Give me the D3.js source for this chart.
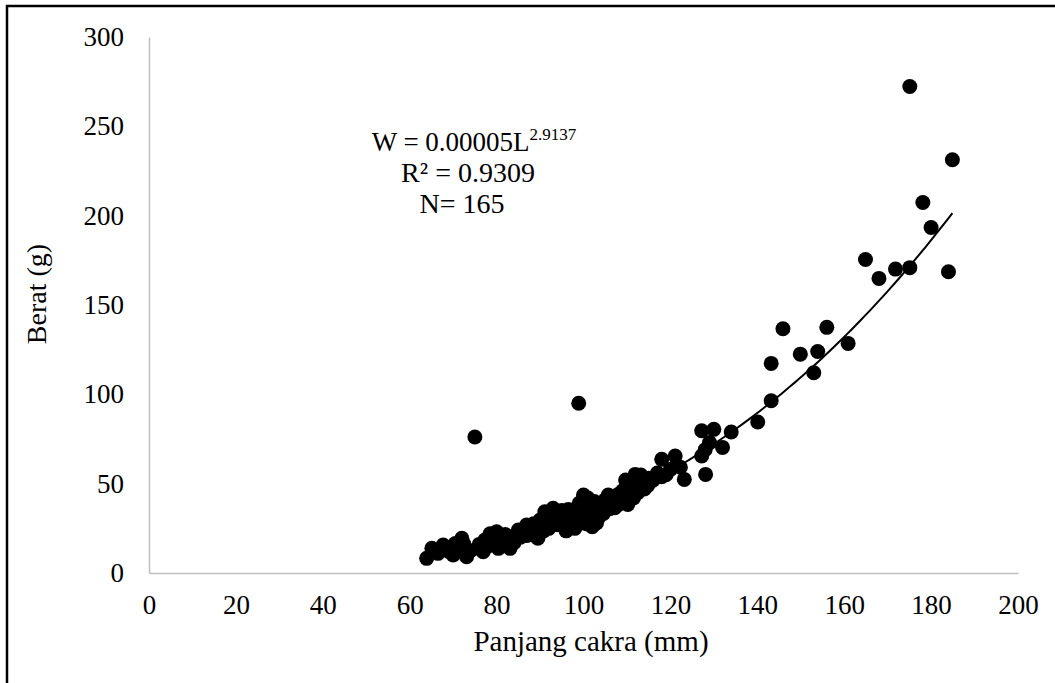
<!DOCTYPE html>
<html>
<head>
<meta charset="utf-8">
<script src="https://cdn.jsdelivr.net/npm/d3@7"></script>
<style>
  html, body { margin: 0; padding: 0; background: #fff; }
  svg { display: block; }
  text { font-family: "Liberation Serif", "Times New Roman", serif; fill: #000; }
</style>
</head>
<body>
<svg id="chart" width="1055" height="683"></svg>
<script>
// Panjang cakra (mm) of each fish
const lengths = [
  63.9, 65.1, 67.7, 70.0, 72.0, 73.1, 69.0, 71.0, 66.5, 68.5, 72.5, 74.0, 70.5,
  77.3, 76.9, 80.0, 80.4, 83.1, 85.0, 78.0, 79.0, 81.5, 82.0, 84.0, 76.0, 78.5, 83.5, 81.0, 85.5,
  86.9, 90.0, 91.1, 93.0, 87.0, 88.0, 89.0, 90.5, 91.5, 92.0, 93.5, 94.0, 94.5, 95.0, 96.0, 96.0, 88.5, 92.5, 89.5, 87.5, 95.5, 86.0,
  96.5, 97.0, 97.5, 98.0, 98.5, 99.0, 99.5, 100.0, 100.0, 100.5, 101.0, 101.5, 102.0, 102.0, 102.5, 103.0, 103.5, 104.0, 104.6, 105.0, 105.7, 96.5, 98.0, 99.0, 101.0, 103.0,
  106.0, 106.5, 107.0, 107.5, 108.0, 108.5, 109.0, 109.7, 110.0, 110.2, 110.5, 111.0, 111.9, 112.0, 112.5, 113.2, 113.5, 114.0, 114.5, 115.0,
  118.0, 118.0, 119.0, 121.1, 122.3, 123.2, 127.2, 127.2, 128.1, 130.0, 134.0, 132.0, 129.0, 128.0, 120.0, 116.0, 117.0,
  140.1, 143.2, 143.2, 145.9, 149.9, 153.0, 153.9, 156.0, 160.9, 164.9, 168.0, 171.8, 175.1, 175.1, 178.1, 180.0, 184.0, 184.9,
  75.0, 98.9,
  86.5, 87.8, 88.8, 89.8, 90.8, 91.8, 92.8, 93.8, 94.8, 95.8,
  96.8, 97.8, 98.8, 99.8, 100.8, 101.8, 102.8, 103.8, 104.8, 97.2, 100.2,
  105.5, 106.2, 107.2, 108.2, 109.2, 110.8, 111.5, 112.8, 113.8, 114.8
];

// Berat (g) of each fish, in the same order
const weights = [
  8.2, 13.8, 15.7, 10.1, 19.4, 9.1, 12.0, 14.0, 11.0, 13.5, 16.0, 12.5, 16.5,
  18.5, 11.9, 23.1, 13.8, 13.8, 24.1, 15.0, 20.0, 18.0, 21.5, 17.0, 16.0, 22.0, 19.5, 16.0, 20.0,
  26.9, 29.7, 34.3, 36.2, 21.0, 24.0, 22.5, 26.0, 28.0, 25.0, 30.0, 27.0, 33.0, 35.0, 31.0, 23.6, 27.5, 31.5, 19.5, 23.0, 26.0, 22.5,
  29.0, 33.0, 27.0, 30.5, 36.0, 32.0, 28.0, 43.6, 34.0, 31.0, 37.0, 29.0, 25.9, 33.0, 40.0, 35.0, 31.0, 37.5, 33.4, 41.0, 43.6, 35.5, 25.0, 39.0, 42.0, 28.0,
  36.0, 39.0, 42.0, 38.0, 44.0, 40.0, 46.0, 52.0, 49.0, 38.4, 43.0, 47.0, 55.2, 50.0, 45.0, 54.8, 48.0, 47.0, 51.0, 53.0,
  63.6, 53.9, 55.0, 65.5, 59.2, 52.4, 79.6, 65.5, 55.2, 80.4, 78.9, 70.3, 73.0, 69.0, 58.0, 52.0, 56.0,
  84.5, 96.4, 117.3, 136.7, 122.5, 112.1, 124.0, 137.5, 128.5, 175.5, 164.9, 170.1, 170.9, 272.3, 207.4, 193.4, 168.6, 231.3,
  76.1, 95.0,
  24.5, 25.5, 21.0, 27.0, 23.5, 30.0, 27.5, 32.5, 29.5, 33.5,
  26.5, 34.5, 29.5, 37.0, 27.5, 35.5, 38.0, 34.0, 39.0, 30.0, 30.0,
  37.5, 41.5, 36.5, 38.5, 41.0, 45.5, 42.0, 47.0, 52.0, 49.0
];

const xTicks = [0, 20, 40, 60, 80, 100, 120, 140, 160, 180, 200];
const yTicks = [0, 50, 100, 150, 200, 250, 300];

// Power fit W = a * L^b
const fitA = 0.00005;
const fitB = 2.9137;
const rSquared = "0.9309";
const sampleN = 165;

const svg = d3.select("#chart");

const x = d3.scaleLinear().domain([0, 200]).range([149, 1018]);
const y = d3.scaleLinear().domain([0, 300]).range([573, 37]);

// outer frame
svg.append("rect")
  .attr("x", 7).attr("y", 6)
  .attr("width", 1200).attr("height", 800)
  .attr("fill", "none").attr("stroke", "#000").attr("stroke-width", 2.5);

// axes (lines only, no tick marks)
const xAxis = svg.append("g").attr("transform", `translate(0,${y(0)})`)
  .call(d3.axisBottom(x).tickValues(xTicks).tickSize(0).tickPadding(22).tickFormat(d3.format("d")));
xAxis.select(".domain").attr("stroke", "#bfbfbf").attr("stroke-width", 1.5);
xAxis.selectAll("text").attr("font-size", 27).attr("font-family", "Liberation Serif").attr("fill", "#000");

const yAxis = svg.append("g").attr("transform", `translate(${x(0)},0)`)
  .call(d3.axisLeft(y).tickValues(yTicks).tickSize(0).tickPadding(25).tickFormat(d3.format("d")));
yAxis.select(".domain").attr("stroke", "#bfbfbf").attr("stroke-width", 1.5);
yAxis.selectAll("text").attr("font-size", 27).attr("font-family", "Liberation Serif").attr("fill", "#000");

// points
const pts = lengths.map((L, i) => ({ L, W: weights[i] }));
svg.append("g").selectAll("circle").data(pts).join("circle")
  .attr("cx", d => x(d.L))
  .attr("cy", d => y(d.W))
  .attr("r", 7.5)
  .attr("fill", "#000");

// trend curve
const Lmin = d3.min(lengths), Lmax = d3.max(lengths);
const curvePts = d3.range(0, 121).map(i => {
  const L = Lmin + (Lmax - Lmin) * i / 120;
  return [L, fitA * Math.pow(L, fitB)];
});
svg.append("path")
  .attr("d", d3.line().x(d => x(d[0])).y(d => y(d[1]))(curvePts))
  .attr("fill", "none").attr("stroke", "#000").attr("stroke-width", 2);

// equation annotation
const ann = svg.append("g").attr("font-size", 27).attr("text-anchor", "middle");
const l1 = ann.append("text").attr("x", 474).attr("y", 151);
l1.append("tspan").text("W = " + "0.00005" + "L");
l1.append("tspan").attr("font-size", 17).attr("dy", -11).text(fitB.toFixed(4));
ann.append("text").attr("x", 468).attr("y", 182).attr("font-size", 28).text("R² = " + rSquared);
ann.append("text").attr("x", 462).attr("y", 213).attr("font-size", 28).text("N= " + sampleN);

// axis titles
svg.append("text")
  .attr("x", 591).attr("y", 651)
  .attr("text-anchor", "middle").attr("font-size", 29)
  .text("Panjang cakra (mm)");
svg.append("text")
  .attr("transform", `translate(46,294) rotate(-90)`)
  .attr("text-anchor", "middle").attr("font-size", 28)
  .text("Berat (g)");
</script>
</body>
</html>
